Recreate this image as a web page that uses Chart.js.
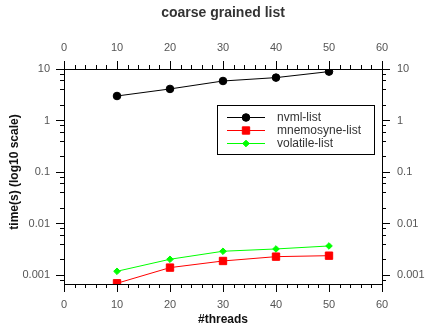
<!DOCTYPE html>
<html>
<head>
<meta charset="utf-8">
<script src="https://cdn.jsdelivr.net/npm/chart.js@4/dist/chart.umd.min.js"></script>
<style>
	html, body { margin: 0; padding: 0; background: #fff; }
	#wrap { width: 446px; height: 336px; }
</style>
</head>
<body>
<div id="wrap"><canvas id="grafico" width="446" height="336"></canvas></div>
<script>

var titulo = 'coarse grained list';
var tituloX = '#threads';
var tituloY = 'time(s) (log10 scale)';

var threads = [10, 20, 30, 40, 50];
var nvml = [2.99, 4.1, 5.85, 6.8, 8.9];
var mnemosyne = [0.00069, 0.00139, 0.00187, 0.00227, 0.00237];
var volatil = [0.00118, 0.00202, 0.00289, 0.0032, 0.00366];

var ticksX = [0, 10, 20, 30, 40, 50, 60];
var ticksY = [0.001, 0.01, 0.1, 1, 10];
var rotulosY = ['0.001', '0.01', '0.1', '1', '10'];

var fonte = '"Liberation Sans", Arial, sans-serif';

var pontos = function(serie){
	var lista = [];
	for (var i = 0; i < threads.length; i++) {
		lista.push({ x: threads[i], y: serie[i] });
	}
	return lista;
};

var eixoX = function(pos){
	return {
		type: 'linear',
		position: pos,
		min: 0,
		max: 60,
		grid: { display: false, drawTicks: false },
		border: { display: true, color: '#000', width: 1 },
		afterBuildTicks: function(scale){
			scale.ticks = ticksX.map(function(v){ return { value: v }; });
		},
		afterFit: function(scale){
			scale.height = pos == 'top' ? 69 : 52;
		},
		ticks: {
			padding: 14,
			maxRotation: 0,
			color: '#555',
			font: { family: fonte, size: 11 },
			callback: function(v){ return String(v); }
		}
	};
};

var eixoY = function(pos){
	return {
		type: 'logarithmic',
		position: pos,
		min: 0.000668,
		max: 10,
		grid: { display: false, drawTicks: false },
		border: { display: true, color: '#000', width: 1 },
		afterBuildTicks: function(scale){
			scale.ticks = ticksY.map(function(v){ return { value: v }; });
		},
		afterFit: function(scale){
			scale.width = 64;
		},
		ticks: {
			padding: pos == 'left' ? 14 : 15,
			color: '#555',
			font: { family: fonte, size: 11 },
			callback: function(v){
				var idx = ticksY.indexOf(v);
				return idx >= 0 ? rotulosY[idx] : '';
			}
		}
	};
};

// ticks para fora, menores e maiores, estilo gnuplot
var pluginMarcas = {
	id: 'marcas',
	afterDraw: function(chart){
		var ctx = chart.ctx;
		var area = chart.chartArea;
		var sx = chart.scales.x;
		var sy = chart.scales.y;

		ctx.save();
		ctx.strokeStyle = '#000';
		ctx.lineWidth = 1;
		ctx.beginPath();

		for (var v = 0; v <= 60; v += 2) {
			var px = Math.round(sx.getPixelForValue(v)) + 0.5;
			var len = (v % 10 == 0) ? 8 : 4;
			ctx.moveTo(px, area.top);
			ctx.lineTo(px, area.top - len);
			ctx.moveTo(px, area.bottom);
			ctx.lineTo(px, area.bottom + len);
		}

		for (var d = -4; d <= 1; d++) {
			var base = Math.pow(10, d);
			var mults = [1, 2, 4, 6, 8];
			for (var m = 0; m < mults.length; m++) {
				var val = base * mults[m];
				if (val < sy.min || val > sy.max * 1.0001) continue;
				var py = Math.round(sy.getPixelForValue(val)) + 0.5;
				var l = mults[m] == 1 ? 8 : 4;
				ctx.moveTo(area.left, py);
				ctx.lineTo(area.left - l, py);
				ctx.moveTo(area.right, py);
				ctx.lineTo(area.right + l, py);
			}
		}
		ctx.stroke();

		// titulo e rotulos dos eixos
		ctx.fillStyle = '#333';
		ctx.textAlign = 'center';
		ctx.textBaseline = 'middle';
		ctx.font = 'bold 14px ' + fonte;
		ctx.fillText(titulo, 223, 13);

		ctx.font = 'bold 12px ' + fonte;
		ctx.fillStyle = '#111';
		ctx.fillText(tituloX, (area.left + area.right) / 2, 320);

		ctx.save();
		ctx.translate(15, 172);
		ctx.rotate(-Math.PI / 2);
		ctx.fillText(tituloY, 0, 0);
		ctx.restore();

		// legenda com caixa
		var bx = 217.5, by = 105.5, bw = 157, bh = 49;
		ctx.strokeStyle = '#000';
		ctx.strokeRect(bx, by, bw, bh);

		ctx.font = '12px ' + fonte;
		ctx.textAlign = 'left';
		ctx.fillStyle = '#333';
		var linhas = [117, 130, 143];
		chart.data.datasets.forEach(function(ds, i){
			var y = linhas[i];
			ctx.beginPath();
			ctx.strokeStyle = ds.borderColor;
			ctx.lineWidth = 1;
			ctx.moveTo(227, y + 0.5);
			ctx.lineTo(265, y + 0.5);
			ctx.stroke();
			ctx.fillStyle = ds.pointBackgroundColor;
			ctx.strokeStyle = ds.pointBorderColor;
			Chart.helpers.drawPoint(ctx, {
				pointStyle: ds.pointStyle,
				radius: ds.pointRadius,
				rotation: 0,
				borderWidth: 1
			}, 246, y + 0.5);
			ctx.fillStyle = '#333';
			ctx.fillText(ds.label, 277, y + 1);
		});

		ctx.restore();
	}
};

var data = {
	datasets: [{
		label: 'nvml-list',
		data: pontos(nvml),
		borderColor: '#000000',
		backgroundColor: '#000000',
		pointBackgroundColor: '#000000',
		pointBorderColor: '#000000',
		pointStyle: 'circle',
		pointRadius: 3.8,
		borderWidth: 1
	}, {
		label: 'mnemosyne-list',
		data: pontos(mnemosyne),
		borderColor: '#ff0000',
		backgroundColor: '#ff0000',
		pointBackgroundColor: '#ff0000',
		pointBorderColor: '#ff0000',
		pointStyle: 'rect',
		pointRadius: 5.2,
		borderWidth: 1,
		clip: 0
	}, {
		label: 'volatile-list',
		data: pontos(volatil),
		borderColor: '#00ff00',
		backgroundColor: '#00ff00',
		pointBackgroundColor: '#00ff00',
		pointBorderColor: '#00ff00',
		pointStyle: 'rectRot',
		pointRadius: 3.3,
		borderWidth: 1
	}]
};

var grafico = new Chart(document.getElementById('grafico'), {
	type: 'line',
	data: data,
	plugins: [pluginMarcas],
	options: {
		responsive: false,
		animation: false,
		layout: { padding: 0 },
		elements: { line: { tension: 0 }, point: { borderWidth: 1 } },
		plugins: {
			legend: { display: false },
			title: { display: false },
			tooltip: { enabled: false }
		},
		scales: {
			x: eixoX('bottom'),
			x2: eixoX('top'),
			y: eixoY('left'),
			y2: eixoY('right')
		}
	}
});

</script>
</body>
</html>
